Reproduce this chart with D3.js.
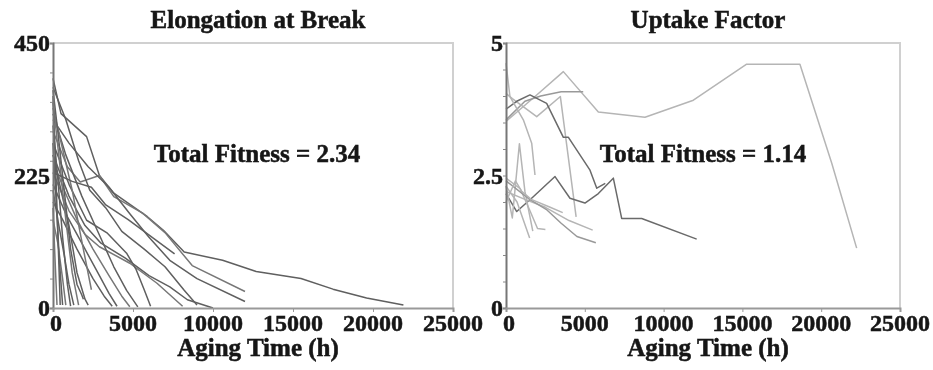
<!DOCTYPE html>
<html lang="en">
<head>
<meta charset="utf-8">
<title>Elongation at Break / Uptake Factor</title>
<script src="https://cdn.jsdelivr.net/npm/d3@7"></script>
<style>
  body { margin: 0; background: #fff; }
  text { font-family: "Liberation Serif", "Times New Roman", serif; font-weight: bold; fill: #151515; stroke: #151515; stroke-width: 0.5px; }
</style>
</head>
<body>
<script>
// aging time (h) vs elongation at break, one array per specimen
var elongRuns = [
  [[0,390],[500,330],[2100,291],[2900,225],[3800,195],[5900,155],[6900,132],[8200,95],[10600,81],[12700,62],[15500,50],[17500,32],[19600,17],[21900,5]],
  [[0,300],[900,240],[1700,214],[2900,225],[3800,189],[5600,161],[7000,128],[8700,72],[12000,28]],
  [[0,320],[1000,280],[2200,240],[3500,205],[4800,160],[6000,120],[7300,81],[9000,50],[12000,11]],
  [[0,260],[1000,190],[2000,140],[3000,110],[4500,85],[6000,55],[7300,36],[8400,14],[10000,0]],
  [[0,230],[1000,165],[2000,125],[2900,104],[4800,76],[6500,42],[8100,3]],
  [[0,280],[1000,210],[2100,149],[3400,127],[4600,93],[5200,65],[5700,31],[6100,3]],
  [[0,330],[800,260],[1800,190],[2800,130],[3800,70],[4600,30],[5300,2]],
  [[0,250],[700,200],[1500,150],[2500,100],[3500,55],[4300,20],[4800,2]],
  [[0,210],[800,160],[1800,110],[2800,60],[3500,25],[4000,3]],
  [[0,180],[600,150],[1500,100],[2500,50],[3200,20],[3700,3]],
  [[0,340],[600,270],[1200,200],[1700,127],[2400,31]],
  [[0,260],[500,200],[1000,140],[1500,60],[2000,15],[2200,5]],
  [[0,370],[300,300],[700,200],[1100,100],[1500,40],[1800,22],[1900,15]],
  [[0,350],[400,250],[800,150],[1200,60],[1600,5]],
  [[0,200],[300,150],[700,90],[1000,40],[1300,5]],
  [[0,310],[300,220],[600,120],[900,40],[1100,3]],
  [[0,150],[300,110],[600,50],[800,5]],
  [[0,280],[200,180],[400,80],[600,5]],
  [[0,360],[150,250],[300,130],[450,5]],
  [[0,170],[100,100],[250,5]],
  [[0,375],[800,320],[1600,250],[2300,200],[3300,170],[4300,130],[5700,100],[7000,70],[8200,30],[9000,5]],
  [[0,230],[1200,215],[2400,205],[3300,175],[4700,150],[6200,120],[7600,92]]
];

// aging time (h) vs uptake factor
var uptakeRuns = [
  [[0,3.52],[1840,3.99],[3640,4.46],[5860,3.70],[8820,3.60],[11890,3.92],[15270,4.6],[18650,4.6],[20670,2.73],[22250,1.13]],
  [[0,3.55],[1200,3.9],[2200,4.0],[3500,4.08],[4900,4.08]],
  [[0,4.05],[400,3.95],[1950,3.61],[3450,3.99],[4450,1.72]],
  [[0,3.75],[680,3.9],[1520,4.02],[2580,3.86],[3640,3.22],[3960,3.22],[5330,2.6],[5760,2.26],[6300,2.35]],
  [[0,2.16],[680,1.82],[1730,2.1],[3110,2.48],[4060,2.07],[5010,1.98],[5860,2.16],[6810,2.45],[7340,1.69],[8610,1.69],[12100,1.3]],
  [[0,4.62],[250,3.99],[1100,3.55],[1630,3.11],[1840,2.51]],
  [[0,2.3],[400,1.7],[850,3.1],[1200,2.2],[1700,1.45]],
  [[0,2.3],[700,2.0],[1500,1.32]],
  [[0,2.45],[900,2.25],[1500,1.85],[2000,1.5],[2500,1.48]],
  [[0,2.2],[1200,2.05],[2500,1.9],[4000,1.65],[5500,1.47]],
  [[0,2.4],[1500,2.05],[2600,1.85],[3500,1.6],[4500,1.35],[5700,1.23]],
  [[0,2.0],[600,2.4],[1000,2.2],[1600,2.05],[2800,1.9],[3600,1.8]]
];

var xTickValues = [0, 5000, 10000, 15000, 20000, 25000];
var elongLabels = [0, 225, 450];
var uptakeLabels = ["0", "2.5", "5"];
var titles = ["Elongation at Break", "Uptake Factor"];
var fitness = ["Total Fitness = 2.34", "Total Fitness = 1.14"];

var svg = d3.select("body").append("svg")
  .attr("width", 933)
  .attr("height", 370);

svg.append("rect").attr("width", 933).attr("height", 370).attr("fill", "#fff");

// the source picture is soft, blur everything a little
svg.append("defs").append("filter").attr("id", "soft")
  .append("feGaussianBlur").attr("stdDeviation", 0.55);

var root = svg.append("g").attr("filter", "url(#soft)");

function panel(left, right, yMax, yStep, yLabels, runs, colorOf, title, fit, fitX) {
  var top = 43, bottom = 308;
  var x = d3.scaleLinear().domain([0, 25000]).range([left, right]);
  var y = d3.scaleLinear().domain([0, yMax]).range([bottom, top]);
  var g = root.append("g");

  // frame: light top/right
  g.append("path")
    .attr("d", "M" + left + "," + top + "H" + right + "V" + bottom)
    .attr("fill", "none").attr("stroke", "#d0d0d0").attr("stroke-width", 2);

  var line = d3.line().x(function(d) { return x(d[0]); }).y(function(d) { return y(d[1]); });
  g.selectAll("path.run")
    .data(runs)
    .enter()
    .append("path")
    .attr("class", "run")
    .attr("d", line)
    .attr("fill", "none")
    .attr("stroke", function(d, i) { return colorOf(i); })
    .attr("stroke-width", 1.5)
    .attr("stroke-linejoin", "round");

  // y axis with minor ticks
  var ya = g.append("g").attr("transform", "translate(" + left + ",0)")
    .call(d3.axisLeft(y).tickValues(d3.range(0, yMax + yStep / 2, yStep)).tickFormat("").tickSize(3));
  ya.select(".domain").attr("stroke", "#777").attr("stroke-width", 2);
  ya.selectAll(".tick line").attr("stroke", "#888");

  g.selectAll("text.ylab")
    .data(yLabels)
    .enter()
    .append("text")
    .attr("class", "ylab")
    .attr("x", left - 3)
    .attr("y", function(d) { return y(+d) + 8; })
    .attr("text-anchor", "end")
    .attr("font-size", 24)
    .text(function(d) { return d; });

  // x axis
  var xa = g.append("g").attr("transform", "translate(0," + bottom + ")")
    .call(d3.axisBottom(x).tickValues(xTickValues).tickFormat("").tickSize(4));
  xa.select(".domain").attr("stroke", "#999").attr("stroke-width", 2);
  xa.selectAll(".tick line").attr("stroke", "#999");

  g.selectAll("text.xlab")
    .data(xTickValues)
    .enter()
    .append("text")
    .attr("class", "xlab")
    .attr("x", function(d) { return x(d) + (d === 0 ? 3 : 0); })
    .attr("y", 331)
    .attr("text-anchor", "middle")
    .attr("font-size", 24)
    .text(function(d) { return d; });

  var cx = (left + right) / 2 + 5;
  g.append("text").attr("x", cx).attr("y", 28).attr("text-anchor", "middle")
    .attr("font-size", 25).text(title);
  g.append("text").attr("x", cx).attr("y", 356).attr("text-anchor", "middle")
    .attr("font-size", 25).text("Aging Time (h)");
  g.append("text").attr("x", fitX).attr("y", 162).attr("text-anchor", "middle")
    .attr("font-size", 25).text(fit);
}

panel(53, 453, 450, 50, elongLabels, elongRuns,
  function(i) { return i % 3 === 1 ? "#777" : "#5f5f5f"; },
  titles[0], fitness[0], 257);

panel(506, 900, 5, 0.5, uptakeLabels, uptakeRuns,
  function(i) { return (i === 3 || i === 4) ? "#6a6a6a" : (i === 1 || i === 10 ? "#999" : "#b5b5b5"); },
  titles[1], fitness[1], 703);
</script>
</body>
</html>
